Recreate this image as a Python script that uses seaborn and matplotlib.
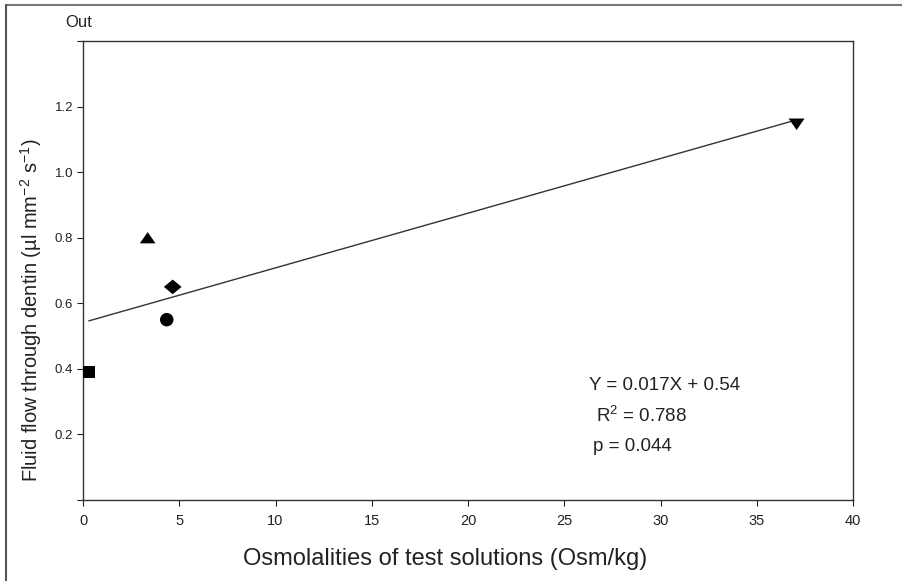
import numpy as np
import pandas as pd
import matplotlib
matplotlib.use("Agg")
import matplotlib.pyplot as plt
import seaborn as sns
from matplotlib.lines import Line2D

# values
osmolality = [0.3, 4.35, 4.66, 3.36, 37.07]
fluid_flow = [0.39, 0.55, 0.65, 0.80, 1.146]
solution = ["square", "circle", "diamond", "up", "down"]

x_ticks = [0, 5, 10, 15, 20, 25, 30, 35, 40]
y_ticks = [0.0, 0.2, 0.4, 0.6, 0.8, 1.0, 1.2, 1.4]
y_ticklabels = ["", "0.2", "0.4", "0.6", "0.8", "1.0", "1.2", ""]

fit_text = ["Y = 0.017X + 0.54", r"R$^2$ = 0.788", "p = 0.044"]
fit_text_x = [26.3, 26.65, 26.5]
fit_text_y = [0.348, 0.255, 0.162]

df = pd.DataFrame({"osm": osmolality, "flow": fluid_flow, "solution": solution})

# marker shape and scatter size per solution
marker_style = {
    "square": ("s", 74),
    "circle": ("o", 94),
    "diamond": ([(-1, 0), (0, 0.83), (1, 0), (0, -0.83)], 162),
    "up": ([(-1, -0.72), (1, -0.72), (0, 0.72)], 128),
    "down": ([(-1, 0.72), (1, 0.72), (0, -0.72)], 132),
}

sns.set_theme(style="ticks")
plt.rcParams["font.family"] = ["Liberation Sans", "DejaVu Sans"]
plt.rcParams["mathtext.default"] = "regular"

ink = "#222222"

fig = plt.figure(figsize=(9.02, 5.81), dpi=100)
ax = fig.add_axes([83 / 902, 81 / 581, 770 / 902, 459 / 581])

# fitted line through the points
sns.regplot(data=df, x="osm", y="flow", scatter=False, ci=None, truncate=True,
            color="#333333", line_kws={"linewidth": 1.0}, ax=ax)

for name, (mk, size) in marker_style.items():
    sns.scatterplot(data=df[df["solution"] == name], x="osm", y="flow",
                    marker=mk, s=size, color="black", edgecolor="none",
                    linewidth=0, legend=False, ax=ax, zorder=3)

ax.set_xlim(0, 40)
ax.set_ylim(0, 1.4)
ax.set_xticks(x_ticks)
ax.set_xticklabels([str(t) for t in x_ticks], fontsize=10.5)
ax.set_yticks(y_ticks)
ax.set_yticklabels(y_ticklabels, fontsize=9.5)
ax.tick_params(axis="both", direction="out", length=4, width=0.8, colors=ink)
ax.tick_params(axis="x", pad=6)
ax.tick_params(axis="y", pad=3)

for sp in ax.spines.values():
    sp.set_visible(True)
    sp.set_color("#333333")
    sp.set_linewidth(1.0)

ax.set_xlabel("Osmolalities of test solutions (Osm/kg)", fontsize=17, color=ink)
ax.xaxis.set_label_coords(0.47, -0.105)
ax.set_ylabel("Fluid flow through dentin (µl mm$^{-2}$ s$^{-1}$)", fontsize=14.5,
              color=ink)
ax.yaxis.set_label_coords(-0.051, 0.414)

ax.text(-0.023, 1.041, "Out", transform=ax.transAxes, fontsize=12,
        ha="left", va="center", color=ink)

for label, tx, ty in zip(fit_text, fit_text_x, fit_text_y):
    ax.text(tx, ty, label, fontsize=13.5, ha="left", va="center", color=ink)

# partial frame around the figure (top and left edges)
fig.add_artist(Line2D([6 / 902, 1], [1 - 5 / 581, 1 - 5 / 581],
                      transform=fig.transFigure, color="#777777", linewidth=1.5))
fig.add_artist(Line2D([6 / 902, 6 / 902], [0, 1 - 5 / 581],
                      transform=fig.transFigure, color="#555555", linewidth=1.5))

fig.savefig("out.png", dpi=100)
